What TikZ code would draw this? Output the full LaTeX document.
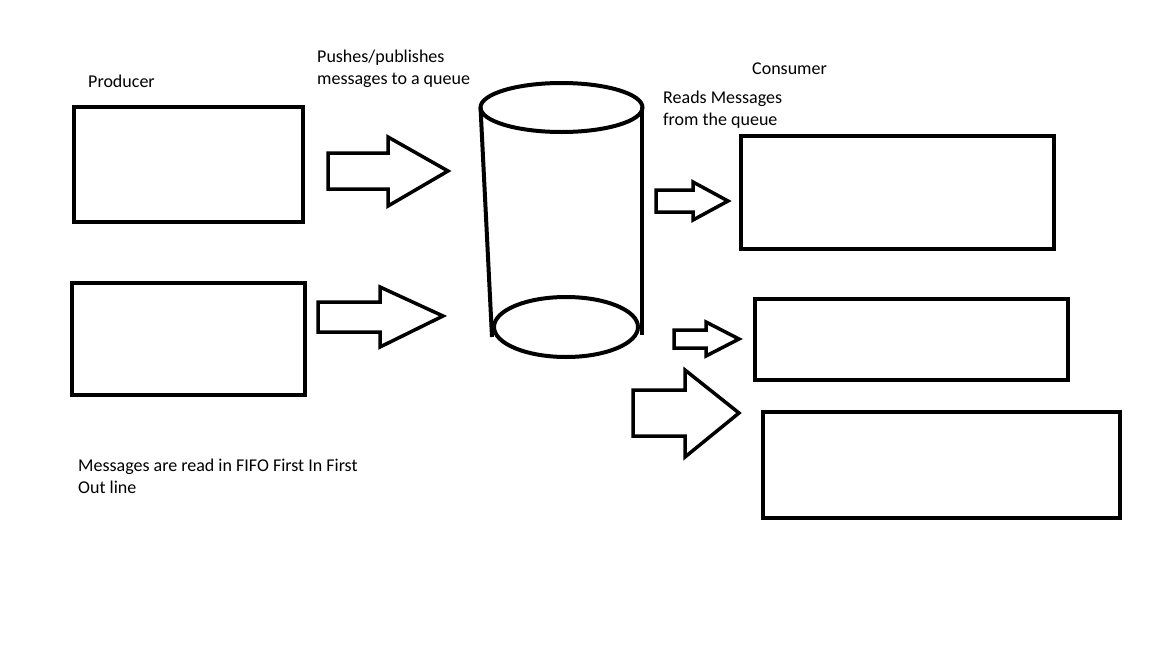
\documentclass[tikz,border=0pt]{standalone}
\usepackage{fontspec}
\setmainfont{Carlito}
\usepackage{tikz}
\tikzset{
  box/.style     = { draw, line width=4pt, rectangle, inner sep=0pt },
  blockarr/.style = { draw, line width=3.5pt, line join=miter },
  drum/.style    = { draw, line width=4pt },
  label/.style   = { anchor=base west, inner sep=0pt, align=left,
                     font=\fontsize{18}{22}\selectfont }
}
\begin{document}
\begin{tikzpicture}[x=1pt,y=-1pt]
  \useasboundingbox (0,0) rectangle (1152,648);
  % Draw producer and consumer boxes
  \node[box, minimum width=229, minimum height=115] (prodA) at (188.5,164.5) {};
  \node[box, minimum width=233, minimum height=112] (prodB) at (188.5,339) {};
  \node[box, minimum width=313, minimum height=113] (consA) at (897.5,192.5) {};
  \node[box, minimum width=313, minimum height=81]  (consB) at (911.5,339.5) {};
  \node[box, minimum width=357, minimum height=106] (consC) at (941.5,465) {};
  % Draw the queue
  \draw[drum] (561.5,107.5) ellipse [x radius=81, y radius=24.5];
  \draw[drum] (566,327) ellipse [x radius=72, y radius=30];
  \draw[drum] (480.5,107) -- (492,337);
  \draw[drum] (642,107) -- (642,335);
  % Draw arrows
  \draw[blockarr] (328,153) -- (388,153) -- (388,137) -- (448,171) -- (388,206) -- (388,189) -- (328,189) -- cycle;
  \draw[blockarr] (318,302) -- (380,302) -- (380,287) -- (443,316) -- (380,347) -- (380,332) -- (318,332) -- cycle;
  \draw[blockarr] (656,190) -- (693,190) -- (693,182) -- (728,201) -- (693,220) -- (693,212) -- (656,212) -- cycle;
  \draw[blockarr] (674,330) -- (706,330) -- (706,322) -- (739,339) -- (706,356) -- (706,348) -- (674,348) -- cycle;
  \draw[blockarr] (633,390) -- (685,390) -- (685,370) -- (739,413) -- (685,457) -- (685,436) -- (633,436) -- cycle;
  % Draw labels
  \node[label] (prodlabel) at (88,87) {Producer};
  \node[label] (pushlabel) at (317,84) {Pushes/publishes\\messages to a queue};
  \node[label] (conslabel) at (752,74) {Consumer};
  \node[label] (readlabel) at (663,125) {Reads Messages\\from the queue};
  \node[label] (fifolabel) at (78,493) {Messages are read in FIFO First In First\\Out line};
\end{tikzpicture}
\end{document}
